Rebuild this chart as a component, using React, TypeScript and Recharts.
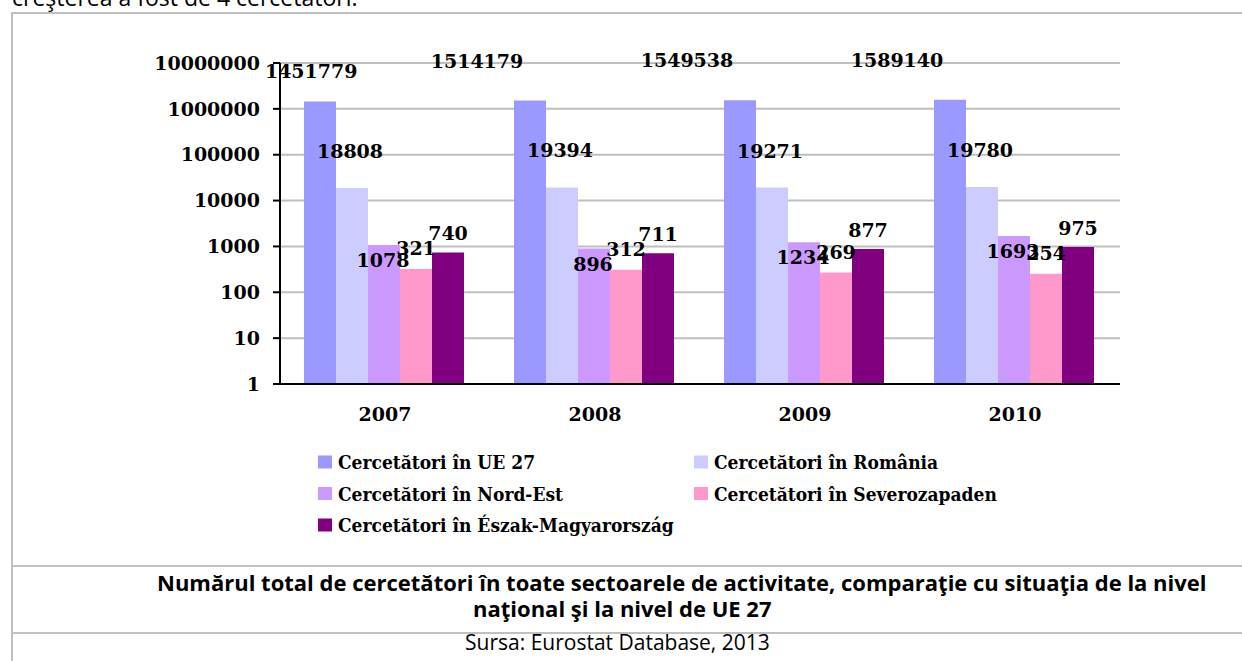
import React from 'react';
import { BarChart, Bar, XAxis, YAxis, CartesianGrid, Legend, LabelList } from 'recharts';

const years = ['2007', '2008', '2009', '2010'];
const ue27 = [1451779, 1514179, 1549538, 1589140];
const romania = [18808, 19394, 19271, 19780];
const nordEst = [1078, 896, 1234, 1693];
const severozapaden = [321, 312, 269, 254];
const eszak = [740, 711, 877, 975];
const yTicks = [1, 10, 100, 1000, 10000, 100000, 1000000, 10000000];
const edgeTicks = [0, 1, 2, 3, 4];

const seriesNames = [
  'Cercetători în UE 27',
  'Cercetători în România',
  'Cercetători în Nord-Est',
  'Cercetători în Severozapaden',
  'Cercetători în Észak-Magyarország',
];

const data = years.map((year, i) => ({
  year,
  ue27: ue27[i],
  romania: romania[i],
  nordEst: nordEst[i],
  severozapaden: severozapaden[i],
  eszak: eszak[i],
}));

const numFont = { fontFamily: "'DejaVu Serif', serif", fontWeight: 700, fontSize: 19, fill: '#000' };
const sansFont = "'Open Sans', Lato, sans-serif";
const labelMinLeft = 265;

// Excel puts its data labels a bit off the bars, offsets per series
const makeLabel = (dx: number, dy: number) => (props: any) => {
  const { x, y, width, value } = props;
  const half = (String(value).length * 13.2) / 2;
  let cx = Number(x) + Number(width) / 2 + dx;
  let cy = Number(y) + dy;
  if (cx - half < labelMinLeft) {
    // pushed back inside the plot, and a little lower, like Excel does
    cx = labelMinLeft + half;
    cy += 10;
  }
  return (
    <text x={cx} y={cy} textAnchor="middle" dominantBaseline="central" style={numFont}>
      {value}
    </text>
  );
};

const renderLegend = (props: any) => {
  const payload = [...(props.payload || [])].sort(
    (a: any, b: any) => seriesNames.indexOf(a.value) - seriesNames.indexOf(b.value)
  );
  return (
    <svg width={720} height={100}>
      {payload.map((entry: any, i: number) => {
        const x = (i % 2) * 376 + 8;
        const cy = 17 + Math.floor(i / 2) * 31.5;
        return (
          <g key={entry.value}>
            <rect x={x} y={cy - 6.5} width={14} height={13} fill={entry.color} />
            <text
              x={x + 20}
              y={cy}
              dominantBaseline="central"
              style={{
                fontFamily: "'DejaVu Serif Condensed', 'DejaVu Serif', serif",
                fontWeight: 700,
                fontSize: 19,
                fill: '#000',
              }}
            >
              {entry.value}
            </text>
          </g>
        );
      })}
    </svg>
  );
};

export default function App() {
  return (
    <div style={{ position: 'absolute', left: 0, top: 0, width: 1242, height: 661, background: '#fff', overflow: 'hidden' }}>
      <svg width={1242} height={661} style={{ position: 'absolute', left: 0, top: 0 }}>
        <text x={12} y={6} style={{ fontFamily: sansFont, fontSize: 23, fill: '#000' }}>
          creşterea a fost de 4 cercetători.
        </text>
        <line x1={12} y1={13} x2={1242} y2={13} stroke="#c0c0c0" strokeWidth={2} />
        <line x1={12} y1={12} x2={12} y2={661} stroke="#c0c0c0" strokeWidth={2} />
        <line x1={12} y1={566} x2={1242} y2={566} stroke="#c0c0c0" strokeWidth={2} />
        <line x1={12} y1={633} x2={1242} y2={633} stroke="#c0c0c0" strokeWidth={2} />
        <text x={157} y={591} style={{ fontFamily: sansFont, fontWeight: 700, fontSize: 22, fill: '#000' }}>
          Numărul total de cercetători în toate sectoarele de activitate, comparaţie cu situaţia de la nivel
        </text>
        <text x={473} y={617} style={{ fontFamily: sansFont, fontWeight: 700, fontSize: 22, fill: '#000' }}>
          naţional şi la nivel de UE 27
        </text>
        <text x={465} y={650} style={{ fontFamily: sansFont, fontSize: 21, fill: '#000' }}>
          Sursa: Eurostat Database, 2013
        </text>
      </svg>
      <div style={{ position: 'absolute', left: 0, top: 0 }}>
        <BarChart
          width={1242}
          height={661}
          data={data}
          margin={{ top: 63, right: 122, left: 200, bottom: 247 }}
          barCategoryGap={24}
          barGap={0}
        >
          <CartesianGrid vertical={false} stroke="#bfbfbf" strokeWidth={2} xAxisId="cat" />
          <XAxis
            xAxisId="edges"
            type="number"
            domain={[0, 4]}
            ticks={edgeTicks}
            allowDataOverflow
            tick={false}
            axisLine={false}
            tickLine={{ stroke: '#000', strokeWidth: 2 }}
            tickSize={7}
            height={0}
          />
          <XAxis
            xAxisId="cat"
            dataKey="year"
            tickLine={false}
            axisLine={{ stroke: '#000', strokeWidth: 2 }}
            tick={numFont}
            tickMargin={18}
            height={30}
          />
          <YAxis
            scale="log"
            domain={[1, 10000000]}
            ticks={yTicks}
            interval={0}
            allowDataOverflow
            width={80}
            axisLine={{ stroke: '#000', strokeWidth: 2 }}
            tickLine={{ stroke: '#000', strokeWidth: 2 }}
            tickSize={7}
            tickMargin={13}
            tick={numFont}
            tickFormatter={(v: number) => String(v)}
          />
          <Legend
            layout="horizontal"
            verticalAlign="middle"
            align="center"
            content={renderLegend}
            wrapperStyle={{ left: 310, top: 445, width: 720, height: 100 }}
          />
          <Bar xAxisId="cat" dataKey="ue27" name={seriesNames[0]} fill="#9999ff" isAnimationActive={false}>
            <LabelList dataKey="ue27" content={makeLabel(-53, -40)} />
          </Bar>
          <Bar xAxisId="cat" dataKey="romania" name={seriesNames[1]} fill="#ccccff" isAnimationActive={false}>
            <LabelList dataKey="romania" content={makeLabel(-2, -37)} />
          </Bar>
          <Bar xAxisId="cat" dataKey="nordEst" name={seriesNames[2]} fill="#cc99ff" isAnimationActive={false}>
            <LabelList dataKey="nordEst" content={makeLabel(-1, 15)} />
          </Bar>
          <Bar xAxisId="cat" dataKey="severozapaden" name={seriesNames[3]} fill="#ff99cc" isAnimationActive={false}>
            <LabelList dataKey="severozapaden" content={makeLabel(0, -21)} />
          </Bar>
          <Bar xAxisId="cat" dataKey="eszak" name={seriesNames[4]} fill="#800080" isAnimationActive={false}>
            <LabelList dataKey="eszak" content={makeLabel(0, -19)} />
          </Bar>
        </BarChart>
      </div>
    </div>
  );
}
